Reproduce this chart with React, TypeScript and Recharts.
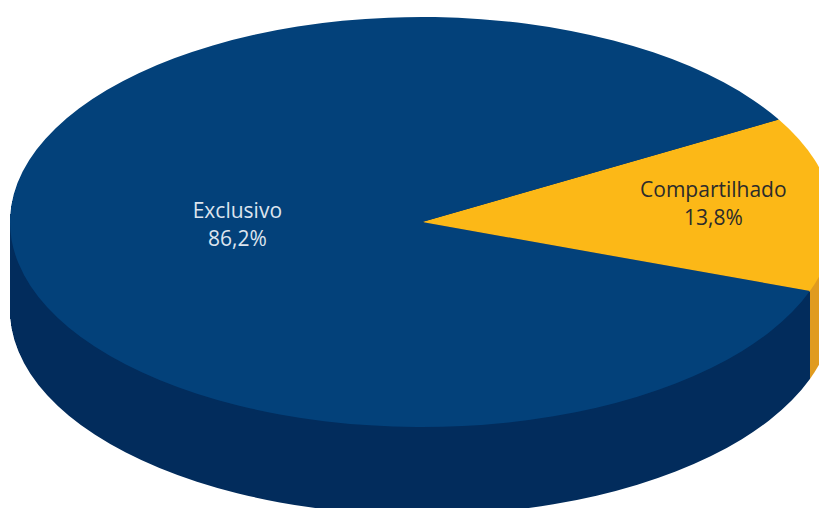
import { Pie, PieChart, Cell } from "recharts";

const categories = ["Compartilhado", "Exclusivo"];
const shares = [13.8, 86.2];

const topColors = ["#FCB817", "#03417A"];
const sideColors = ["#E09B1F", "#022C5C"];
const labelColors = ["#2b2b2b", "#dde4ee"];

const data = categories.map((name, i) => ({ name, value: shares[i] }));

// fake 3d: circle pie squashed vertically with css, side made of stacked darker pies
const W = 819;
const H = 508;
const RX = 412;
const RY = 205;
const K = RY / RX;
const CX = 422;
const CY = 222;
const DEPTH = 88;
const START = 30;

const RADIAN = Math.PI / 180;

function renderLabel(props: any) {
  const { cx, cy, midAngle, outerRadius, percent, name, value, index } = props;
  const r = outerRadius * (percent > 0.5 ? 0.45 : 0.71);
  const x = cx + r * Math.cos(-midAngle * RADIAN);
  const y = cy + r * Math.sin(-midAngle * RADIAN);
  const pct = value.toFixed(1).replace(".", ",") + "%";
  return (
    <g transform={`translate(${x},${y}) scale(1,${1 / K})`}>
      <text
        textAnchor="middle"
        dominantBaseline="central"
        fontFamily="'Open Sans', sans-serif"
        fontSize={21}
        fill={labelColors[index]}
      >
        <tspan x={0} y={-20}>{name}</tspan>
        <tspan x={0} y={8}>{pct}</tspan>
      </text>
    </g>
  );
}

export default function App() {
  const chartH = Math.ceil(H / K) + 10;
  const layers = Array.from({ length: DEPTH }, (_, i) => DEPTH - i);

  return (
    <div style={{ position: "fixed", left: 0, top: 0, width: W, height: H, overflow: "hidden", background: "#fff" }}>
      <div style={{ transform: `scaleY(${K})`, transformOrigin: "0 0" }}>
        <PieChart width={W} height={chartH} margin={{ top: 0, right: 0, bottom: 0, left: 0 }}>
          {layers.map((d) => (
            <Pie
              key={"side" + d}
              data={data}
              dataKey="value"
              nameKey="name"
              cx={CX}
              cy={(CY + d) / K}
              outerRadius={RX}
              startAngle={START}
              endAngle={START - 360}
              stroke="none"
              isAnimationActive={false}
            >
              {data.map((e, i) => (
                <Cell
                  key={e.name}
                  fill={sideColors[i]}
                  shapeRendering={d === DEPTH ? "geometricPrecision" : "crispEdges"}
                />
              ))}
            </Pie>
          ))}
          <Pie
            data={data}
            dataKey="value"
            nameKey="name"
            cx={CX}
            cy={CY / K}
            outerRadius={RX}
            startAngle={START}
            endAngle={START - 360}
            stroke="none"
            label={renderLabel}
            labelLine={false}
            isAnimationActive={false}
          >
            {data.map((e, i) => (
              <Cell key={e.name} fill={topColors[i]} />
            ))}
          </Pie>
        </PieChart>
      </div>
    </div>
  );
}
